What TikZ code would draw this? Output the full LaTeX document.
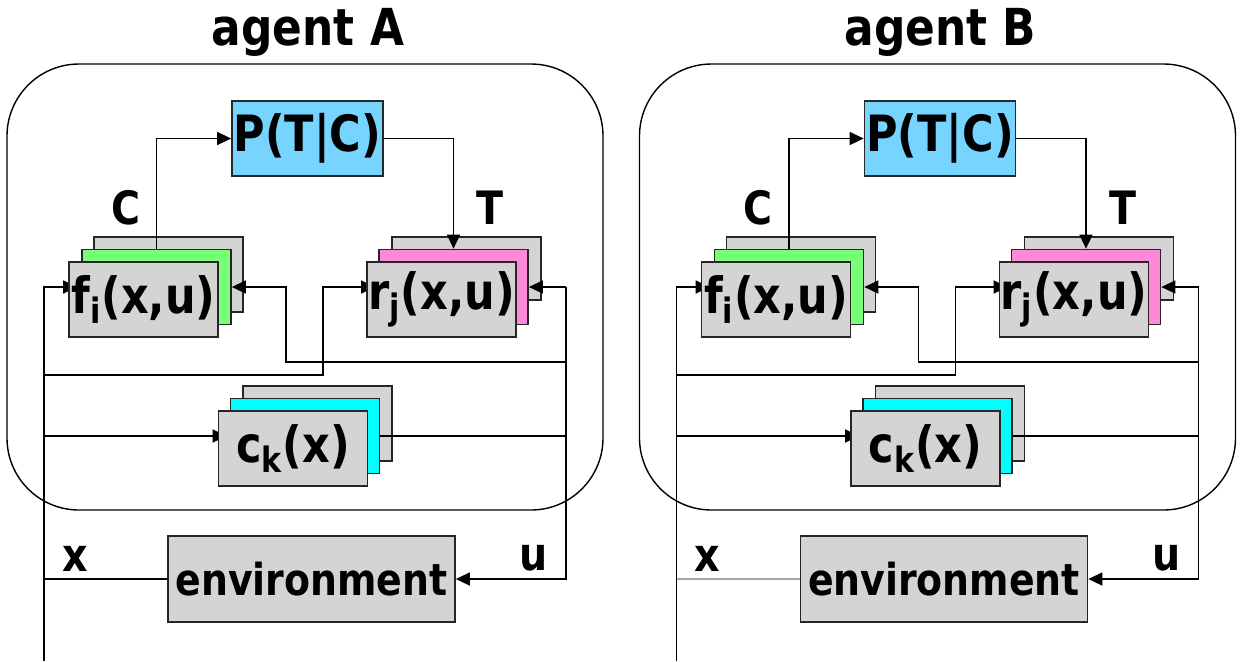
\documentclass[tikz,border=0pt]{standalone}
\usepackage{fontspec}
\setmainfont{DejaVu Sans}[FakeStretch=0.86]
\usetikzlibrary{arrows.meta, backgrounds}

\definecolor{boxgray}{HTML}{D4D4D4}
\definecolor{fgreen}{HTML}{77FF77}
\definecolor{rpink}{HTML}{FF88D8}
\definecolor{ccyan}{HTML}{00FFFF}
\definecolor{pblue}{HTML}{77D4FF}

\begin{document}
\begin{tikzpicture}[
    x=0.5pt, y=-0.5pt,
    layer/.style={draw=black!85, line width=0.85pt, minimum width=74.5pt, minimum height=37.5pt, inner sep=0pt},
    box/.style={layer, fill=boxgray, font=\fontsize{25}{30}\selectfont\bfseries},
    arrow/.style={-{Triangle[length=7pt, width=6.5pt]}, line width=0.7pt},
    wire/.style={line width=0.7pt},
    sig/.style={font=\fontsize{23}{28}\selectfont\bfseries},
    agent/.style={draw, line width=0.7pt, rounded corners=36pt}
]
\useasboundingbox (0,0) rectangle (1242,661);
\begin{pgfonlayer}{background}
  \fill[white] (0,0) rectangle (1242,661);
\end{pgfonlayer}

\foreach \ag/\dx/\xcol in {A/0/black, B/632.5/black!35} {
\begin{scope}[xshift=\dx*0.5pt]
  % frame and title
  \draw[agent] (7,64) rectangle (603,510);
  \node[font=\fontsize{25.5}{30}\selectfont\bfseries, anchor=base] (title\ag) at (308,45) {agent \ag};

  % lookup table
  \node[box, fill=pblue, minimum width=75.5pt] (P\ag) at (307.5,138.5) {P(T|C)};

  % f stack
  \node[layer, fill=boxgray] (fb\ag) at (168.5,274.5) {};
  \node[layer, fill=fgreen] (fm\ag) at (156.5,287) {};
  \node[box] (f\ag) at (143.5,299.5) {f\textsubscript{i}(x,u)};

  % r stack
  \node[layer, fill=boxgray, minimum height=31.5pt] (rb\ag) at (466.5,268.5) {};
  \node[layer, fill=rpink] (rm\ag) at (453.5,287) {};
  \node[box] (r\ag) at (441.5,299.5) {r\textsubscript{j}(x,u)};

  % c stack
  \node[layer, fill=boxgray] (cb\ag) at (317.5,423.5) {};
  \node[layer, fill=ccyan] (cm\ag) at (305,436) {};
  \node[box] (c\ag) at (293,448.5) {c\textsubscript{k}(x)};

  \node[box, minimum width=143.5pt, minimum height=43pt, font=\fontsize{22}{26}\selectfont\bfseries] (env\ag) at (311.5,579) {environment};

  % signal labels
  \node[sig] (C\ag) at (126,208) {C};
  \node[sig] (T\ag) at (490,208) {T};
  \node[sig] (x\ag) at (75,559) {x};
  \node[sig] (u\ag) at (534,558) {u};

  % buses
  \coordinate (xbot\ag) at (44,661);
  \coordinate (ubus\ag) at (566,287);
  \coordinate (xtap\ag) at (323,375);
  \coordinate (utap\ag) at (286,362);

  \draw[arrow] (fm\ag.north) |- (P\ag.west);
  \draw[arrow] (P\ag.east) -| (rm\ag.north);
  \draw[arrow] (ubus\ag) -- (rm\ag.east);
  \draw[arrow] (ubus\ag) |- (env\ag.east);
  \draw[arrow] (ubus\ag |- utap\ag) -- (utap\ag) |- (fm\ag.east);
  \draw[wire] (cm\ag.east) -- (cm\ag.east -| ubus\ag);
  \draw[wire, \xcol] (env\ag.west) -- (env\ag.west -| xbot\ag);
  \begin{pgfonlayer}{background}
    \draw[arrow, shorten >=-4.5pt] (xbot\ag) |- (f\ag.west |- fm\ag);
    \draw[arrow, shorten >=-4.5pt] (xbot\ag |- xtap\ag) -- (xtap\ag) |- (r\ag.west |- rm\ag);
    \draw[arrow, shorten >=-4.5pt] (xbot\ag |- cm\ag) -- (c\ag.west |- cm\ag);
  \end{pgfonlayer}
\end{scope}
}
\end{tikzpicture}
\end{document}
